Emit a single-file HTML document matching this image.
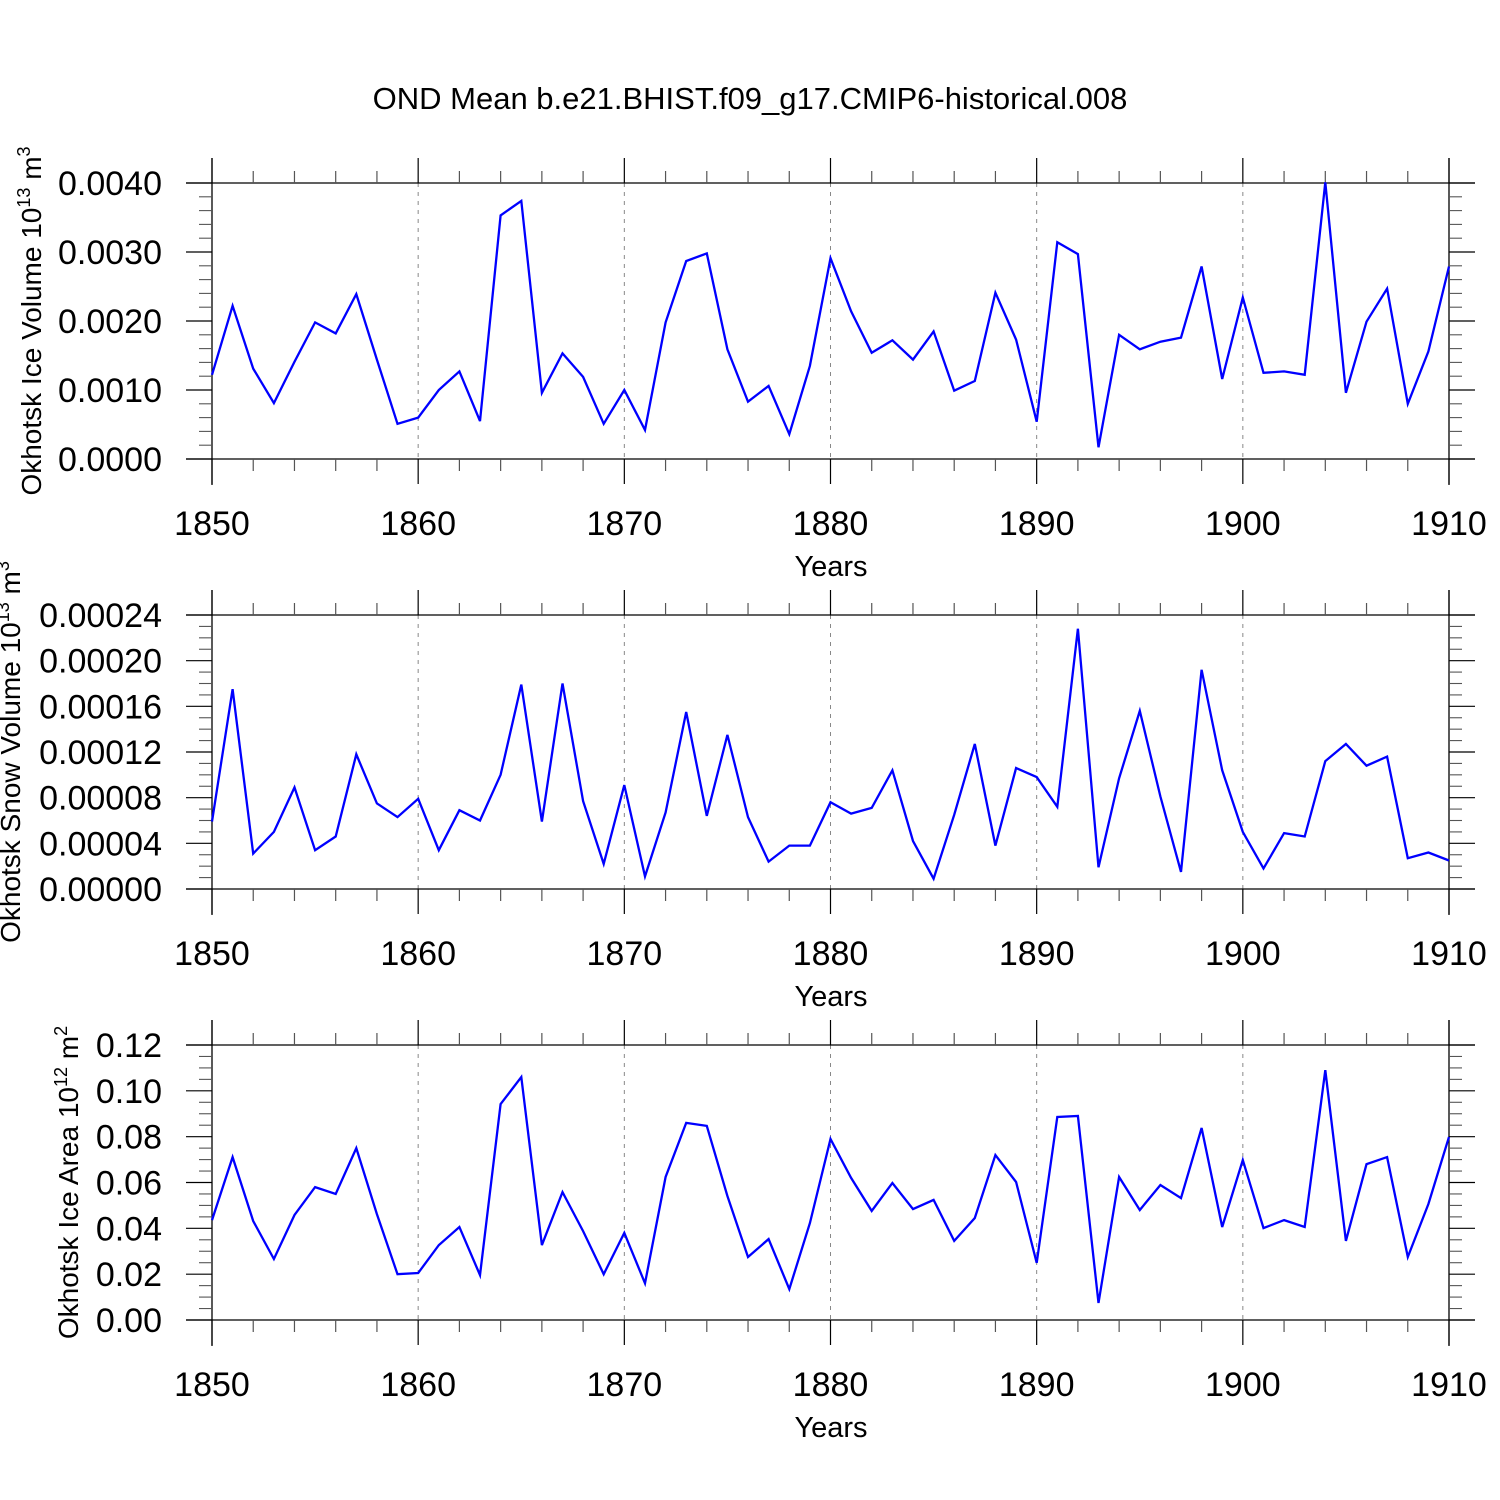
<!DOCTYPE html>
<html><head><meta charset="utf-8"><style>
html,body{margin:0;padding:0;background:#fff}
svg{display:block;font-family:"Liberation Sans",sans-serif}
</style></head><body>
<svg id="chart" width="1500" height="1500" viewBox="0 0 1500 1500">
<text x="750" y="109" text-anchor="middle" font-size="31">OND Mean b.e21.BHIST.f09_g17.CMIP6-historical.008</text>
</svg>
<script>
const years = [];
for (let y = 1850; y <= 1910; y++) years.push(y);
const iceVolume = [0.00122,0.00222,0.00131,0.00081,0.00141,0.00198,0.00182,0.00239,0.00144,0.00051,0.0006,0.001,0.00127,0.00055,0.00353,0.00374,0.00096,0.00153,0.00119,0.00051,0.001,0.00042,0.00198,0.00287,0.00298,0.00159,0.00083,0.00106,0.00036,0.00135,0.00291,0.00214,0.00154,0.00172,0.00144,0.00185,0.00099,0.00113,0.00241,0.00173,0.00054,0.00314,0.00297,0.00017,0.0018,0.00159,0.0017,0.00176,0.00279,0.00116,0.00234,0.00125,0.00127,0.00122,0.00401,0.00096,0.00199,0.00247,0.0008,0.00156,0.00279];
const snowVolume = [5.9,17.5,3.1,5.0,8.9,3.4,4.6,11.8,7.5,6.3,7.9,3.4,6.9,6.0,10.0,17.9,5.9,18.0,7.7,2.2,9.1,1.1,6.7,15.5,6.4,13.5,6.3,2.4,3.8,3.8,7.6,6.6,7.1,10.4,4.2,0.9,6.5,12.7,3.8,10.6,9.8,7.2,22.8,1.9,9.7,15.6,8.1,1.5,19.2,10.4,5.0,1.8,4.9,4.6,11.2,12.7,10.8,11.6,2.7,3.2,2.5].map(v=>v*1e-5);
const iceArea = [0.0436,0.0711,0.0432,0.0266,0.0458,0.058,0.055,0.075,0.0462,0.020,0.0205,0.0327,0.0406,0.0196,0.0942,0.106,0.0327,0.0558,0.0388,0.020,0.038,0.016,0.0624,0.086,0.0847,0.0541,0.0275,0.0353,0.0135,0.0423,0.079,0.062,0.0476,0.0598,0.0484,0.0524,0.0345,0.0445,0.072,0.0602,0.0249,0.0886,0.089,0.0074,0.0624,0.048,0.0589,0.0532,0.0838,0.0406,0.0698,0.0401,0.0436,0.0406,0.109,0.0345,0.068,0.0711,0.0275,0.0506,0.0799];
const xTickLabels = ["1850","1860","1870","1880","1890","1900","1910"];
const yTicks1 = ["0.0000","0.0010","0.0020","0.0030","0.0040"];
const yTicks2 = ["0.00000","0.00004","0.00008","0.00012","0.00016","0.00020","0.00024"];
const yTicks3 = ["0.00","0.02","0.04","0.06","0.08","0.10","0.12"];

const NS = "http://www.w3.org/2000/svg";
const svg = document.getElementById('chart');
const X0 = 212, X1 = 1449;
const xs = v => X0 + (v - 1850) / 60 * (X1 - X0);
function mk(tag, attrs, parent) {
  const e = document.createElementNS(NS, tag);
  for (const k in attrs) e.setAttribute(k, attrs[k]);
  (parent || svg).appendChild(e);
  return e;
}
function panel(p) {
  const g = mk('g', {});
  
  
  const ys = v => p.yb + (v - p.vmin) / (p.vmax - p.vmin) * (p.yt - p.yb);
  const top = p.yt - 25, bot = p.yb + 26;
  for (let yr = 1860; yr <= 1900; yr += 10) {
    const l = mk('line', {x1: xs(yr), x2: xs(yr), y1: p.yt, y2: p.yb, stroke: '#888', 'stroke-width': 1, 'stroke-dasharray': '4,5'}, g);
    
    
  }
  mk('line', {x1: 186, x2: 1475, y1: p.yt, y2: p.yt, stroke: '#000', 'stroke-width': 1.3}, g);
  mk('line', {x1: 186, x2: 1475, y1: p.yb, y2: p.yb, stroke: '#000', 'stroke-width': 1.3}, g);
  mk('line', {x1: X0, x2: X0, y1: top, y2: bot, stroke: '#000', 'stroke-width': 1.3}, g);
  mk('line', {x1: X1, x2: X1, y1: top, y2: bot, stroke: '#000', 'stroke-width': 1.3}, g);
  for (let yr = 1850; yr <= 1910; yr += 2) {
    const major = (yr % 10 === 0);
    const len = major ? 25 : 12;
    mk('line', {x1: xs(yr), x2: xs(yr), y1: p.yt, y2: p.yt - len, stroke: major ? '#000' : '#555', 'stroke-width': 1.2}, g);
    mk('line', {x1: xs(yr), x2: xs(yr), y1: p.yb, y2: p.yb + len, stroke: major ? '#000' : '#555', 'stroke-width': 1.2}, g);
  }
  xTickLabels.forEach(s => {
    const t = mk('text', {x: xs(+s), y: p.yb + 76, 'text-anchor': 'middle', 'font-size': 34}, g);
    t.textContent = s;
    
    
  });
  const xt = mk('text', {x: 831, y: p.yb + 117, 'text-anchor': 'middle', 'font-size': 29}, g);
  xt.textContent = 'Years';
  
  
  const n = p.labels.length - 1;
  const step = (p.vmax - p.vmin) / n;
  for (let i = 0; i <= n; i++) {
    const v = p.vmin + i * step, y = ys(v);
    mk('line', {x1: 186, x2: X0, y1: y, y2: y, stroke: '#000', 'stroke-width': 1.2}, g);
    mk('line', {x1: X1, x2: 1475, y1: y, y2: y, stroke: '#000', 'stroke-width': 1.2}, g);
    const t = mk('text', {x: 162, y: y + 12, 'text-anchor': 'end', 'font-size': 34}, g);
    t.textContent = p.labels[i];
    
    
    if (i < n) for (let m = 1; m <= p.minor; m++) {
      const ym = ys(v + step * m / (p.minor + 1));
      mk('line', {x1: 199, x2: X0, y1: ym, y2: ym, stroke: '#555', 'stroke-width': 1.1}, g);
      mk('line', {x1: X1, x2: 1462, y1: ym, y2: ym, stroke: '#555', 'stroke-width': 1.1}, g);
    }
  }
  const cy = (p.yt + p.yb) / 2;
  const yt = mk('text', {x: 0, y: 0, 'text-anchor': 'middle', 'font-size': 28, transform: `translate(${p.tx},${cy}) rotate(-90)`}, g);
  
  
  yt.innerHTML = p.title;
  const pts = years.map((yr, i) => xs(yr).toFixed(1) + ',' + ys(p.data[i]).toFixed(1)).join(' ');
  const pl = mk('polyline', {points: pts, fill: 'none', stroke: '#0000ff', 'stroke-width': 2.3, 'stroke-linejoin': 'miter'}, g);
  
  
}
panel({name: 'ice-volume-panel', yt: 183, yb: 459, vmin: 0, vmax: 0.004, labels: yTicks1, minor: 4, data: iceVolume, tx: 41,
  title: 'Okhotsk Ice Volume 10<tspan font-size="18" dy="-11">13</tspan><tspan dy="11"> m</tspan><tspan font-size="18" dy="-11">3</tspan>'});
panel({name: 'snow-volume-panel', yt: 615, yb: 889, vmin: 0, vmax: 0.00024, labels: yTicks2, minor: 3, data: snowVolume, tx: 20,
  title: 'Okhotsk Snow Volume 10<tspan font-size="18" dy="-11">13</tspan><tspan dy="11"> m</tspan><tspan font-size="18" dy="-11">3</tspan>'});
panel({name: 'ice-area-panel', yt: 1045, yb: 1320, vmin: 0, vmax: 0.12, labels: yTicks3, minor: 3, data: iceArea, tx: 78,
  title: 'Okhotsk Ice Area 10<tspan font-size="18" dy="-11">12</tspan><tspan dy="11"> m</tspan><tspan font-size="18" dy="-11">2</tspan>'});
</script>
</body></html>
